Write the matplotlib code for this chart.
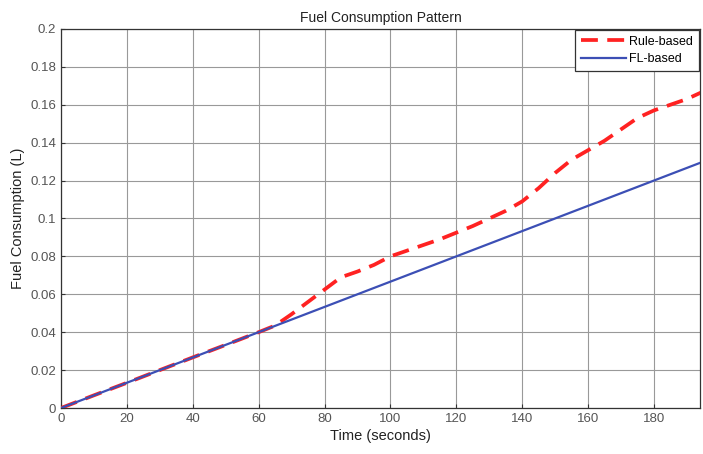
import matplotlib
matplotlib.use("Agg")
import matplotlib.pyplot as plt
import numpy as np

plt.rcParams['font.family'] = ['Liberation Sans', 'DejaVu Sans']

# Time axis (seconds)
time_rule = [0, 10, 20, 30, 40, 50, 60, 65, 70, 75, 80, 85, 90, 95, 100, 105, 110,
             115, 120, 125, 130, 135, 140, 145, 150, 155, 160, 165, 170, 175,
             180, 185, 190, 195]
fuel_rule = [0.0, 0.0067, 0.0133, 0.020, 0.0267, 0.0333, 0.040, 0.0435, 0.0495,
             0.056, 0.0625, 0.069, 0.072, 0.0755, 0.080, 0.083, 0.086, 0.089,
             0.0925, 0.096, 0.100, 0.104, 0.109, 0.116, 0.124, 0.131, 0.136,
             0.141, 0.147, 0.153, 0.157, 0.160, 0.163, 0.167]

time_fl = [0, 195]
fuel_fl = [0.0, 0.130]

x_ticks = [0, 20, 40, 60, 80, 100, 120, 140, 160, 180]
y_ticks = [0, 0.02, 0.04, 0.06, 0.08, 0.1, 0.12, 0.14, 0.16, 0.18, 0.2]
y_tick_labels = ['0', '0.02', '0.04', '0.06', '0.08', '0.1', '0.12', '0.14',
                 '0.16', '0.18', '0.2']

fig = plt.figure(figsize=(7.03, 4.54), dpi=100)
ax = fig.add_axes([0.0868, 0.1013, 0.909, 0.835])

ax.plot(time_rule, fuel_rule, color='#ff2222', linestyle=(0, (4.5, 2.5)),
        linewidth=2.7, label='Rule-based', zorder=3)
ax.plot(time_fl, fuel_fl, color='#3c4fb5', linewidth=1.6, label='FL-based',
        zorder=4)

ax.set_xlim(0, 194)
ax.set_ylim(0, 0.2)
ax.set_xticks(x_ticks)
ax.set_yticks(y_ticks)
ax.set_yticklabels(y_tick_labels)
ax.tick_params(labelsize=9.5, colors='#333333', labelcolor='#555555',
               direction='in', length=3)
ax.grid(True, color='#999999', linewidth=0.8)
for s in ax.spines.values():
    s.set_color('#333333')
    s.set_linewidth(0.9)

ax.set_title('Fuel Consumption Pattern', fontsize=10, color='#222222', pad=5)
ax.set_xlabel('Time (seconds)', fontsize=10.5, color='#222222', labelpad=3)
ax.set_ylabel('Fuel Consumption (L)', fontsize=10.5, color='#222222')

leg = ax.legend(loc='upper right', fontsize=9, fancybox=False, framealpha=1,
                edgecolor='#333333', borderaxespad=0.1, handlelength=3.6,
                handletextpad=0.3, borderpad=0.45, labelspacing=0.45)
leg.get_frame().set_linewidth(0.9)

fig.savefig('out.png', dpi=100)
